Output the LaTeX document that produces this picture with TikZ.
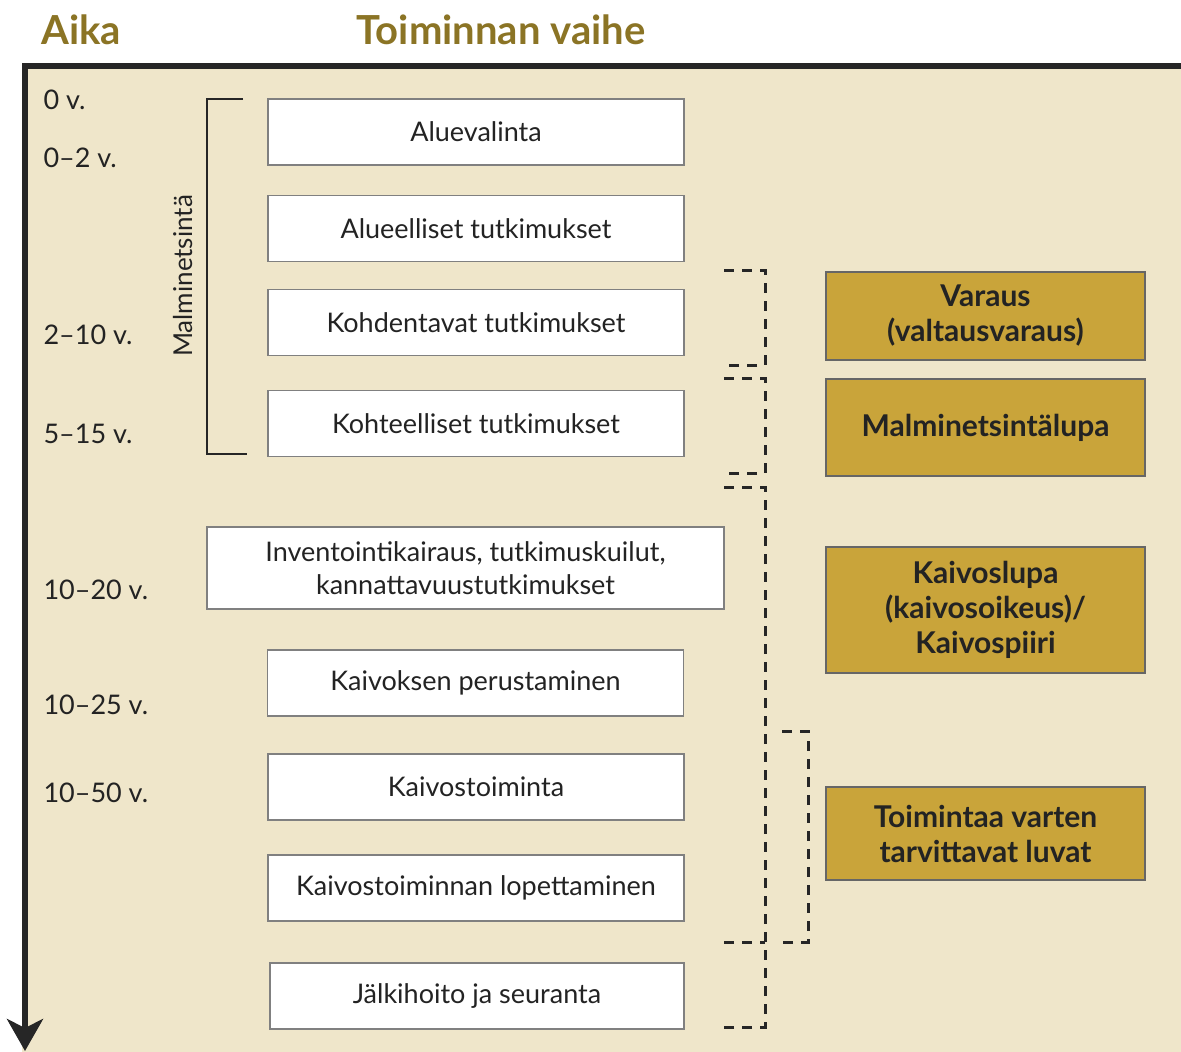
\documentclass[tikz,border=0pt]{standalone}
\usepackage{fontspec}
\setmainfont{Lato}
\usetikzlibrary{positioning,arrows.meta}
\definecolor{panelcolor}{RGB}{239,230,202}
\definecolor{permitcolor}{RGB}{201,164,58}
\definecolor{headcolor}{RGB}{139,116,37}
\definecolor{inkcolor}{RGB}{35,35,35}

\begin{document}
\begin{tikzpicture}[
    x=1pt, y=-1pt,
    every node/.style={font=\fontsize{27}{33}\selectfont, text=inkcolor},
    phase/.style={rectangle, fill=white, draw=black!50, line width=1.2pt, minimum width=416pt, minimum height=66pt, align=center, inner sep=0pt},
    permit/.style={rectangle, fill=permitcolor, draw=black!60, line width=1.2pt, minimum width=319pt, align=center, inner sep=0pt, font=\fontsize{30}{35}\selectfont\bfseries},
    time/.style={anchor=west, font=\fontsize{27}{32}\selectfont},
    header/.style={font=\fontsize{40}{46}\selectfont\bfseries, text=headcolor},
    bracket/.style={line width=2.5pt, black!85},
    permitline/.style={line width=3pt, black!85, dash pattern=on 10pt off 8pt},
    axis/.style={line width=6pt, black!85}
]
\useasboundingbox (0,0) rectangle (1181,1052);

% Panel and time axis
\fill[white] (0,0) rectangle (1181,1052);
\fill[panelcolor] (22,63) rectangle (1181,1052);
\coordinate (axistop) at (25,63);
\coordinate (axisend) at (25,1051);
\coordinate (panelright) at (1181,66);
\draw[axis] (22,66) -- (panelright);
\draw[axis, -{Stealth[length=32pt, width=36pt, inset=9pt]}] (axistop) -- (axisend);

% Headers
\node[header] (aika) at (81,30) {Aika};
\node[header] (vaihe) at (501,30) {Toiminnan vaihe};

% Time labels
\node[time] (t0) at (40,100) {0 v.};
\node[time] (t1) at (40,158) {0–2 v.};
\node[time] (t2) at (40,335) {2–10 v.};
\node[time] (t3) at (40,434) {5–15 v.};
\node[time] (t4) at (40,590) {10–20 v.};
\node[time] (t5) at (40,705) {10–25 v.};
\node[time] (t6) at (40,793) {10–50 v.};

% Phases of the activity
\node[phase] (aluevalinta) at (476,132) {Aluevalinta};
\node[phase] (alueelliset) at (476,228.5) {Alueelliset tutkimukset};
\node[phase] (kohdentavat) at (476,322.5) {Kohdentavat tutkimukset};
\node[phase] (kohteelliset) at (476,423.5) {Kohteelliset tutkimukset};
\node[phase, minimum width=517pt, minimum height=82pt] (inventointi) at (465.5,568) {Inventointikairaus, tutkimuskuilut,\\kannattavuustutkimukset};
\node[phase] (perustaminen) at (475.5,683) {Kaivoksen perustaminen};
\node[phase] (toiminta) at (476,787) {Kaivostoiminta};
\node[phase] (lopettaminen) at (476,888) {Kaivostoiminnan lopettaminen};
\node[phase, minimum width=414pt] (jalkihoito) at (477,996) {Jälkihoito ja seuranta};

% Exploration bracket
\node[rotate=90, font=\fontsize{26}{30}\selectfont] (malminetsinta) at (183,276) {Malminetsintä};
\draw[bracket] (243,99) -- (207,99) -- (207,454) -- (247,454);

% Permits
\node[permit, minimum height=88pt] (varaus) at (985.5,316) {Varaus\\(valtausvaraus)};
\node[permit, minimum height=97pt] (lupa) at (985.5,427.5) {Malminetsintälupa};
\node[permit, minimum height=126pt] (kaivoslupa) at (985.5,610) {Kaivoslupa\\(kaivosoikeus)/\\Kaivospiiri};
\node[permit, minimum height=93pt] (luvat) at (985.5,833.5) {Toimintaa varten\\tarvittavat luvat};

% Dashed permit brackets
\draw[permitline] (724,270) -- (765,270) -- (765,365) -- (724,365);
\draw[permitline] (724,378) -- (765,378) -- (765,473) -- (724,473);
\draw[permitline] (724,487) -- (765,487) -- (765,1027) -- (724,1027);
\draw[permitline] (724,942) -- (765,942);
\draw[permitline] (782,731) -- (808,731) -- (808,942) -- (782,942);

\end{tikzpicture}
\end{document}
